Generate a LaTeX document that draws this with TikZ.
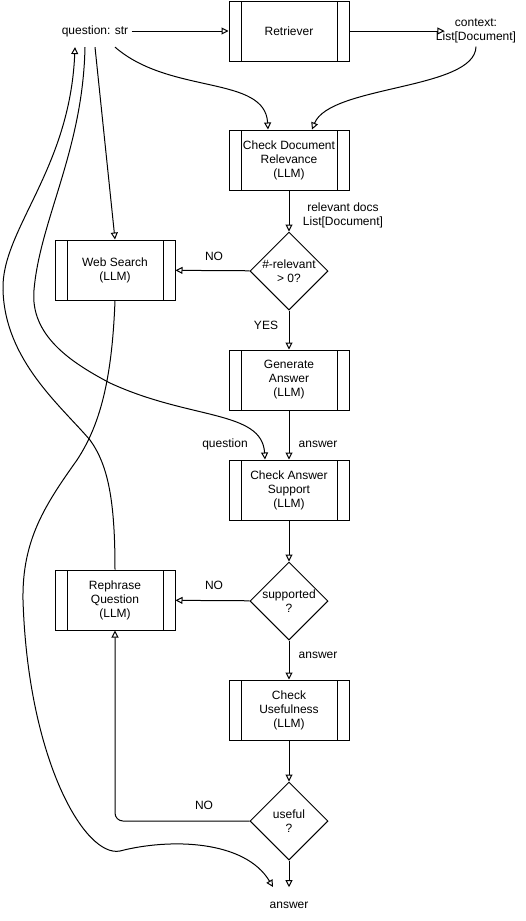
\documentclass[tikz,border=0pt]{standalone}
\usepackage{fontspec}
\setmainfont{Liberation Sans}
\usetikzlibrary{shapes.geometric, arrows.meta}

\begin{document}
\begin{tikzpicture}[x=1pt, y=-1pt, line width=1pt,
    font=\fontsize{12}{14}\selectfont,
    >={Triangle[open, length=7pt, width=7pt]},
    procbox/.style={rectangle, draw, minimum width=120pt, minimum height=60pt, inner sep=0pt, align=center,
        path picture={
            \draw ([xshift=12pt]path picture bounding box.north west) -- ([xshift=12pt]path picture bounding box.south west);
            \draw ([xshift=-12pt]path picture bounding box.north east) -- ([xshift=-12pt]path picture bounding box.south east);
        }},
    decision/.style={diamond, draw, minimum size=78pt, inner sep=0pt, align=center},
    lbl/.style={inner sep=3pt, align=center},
    flow/.style={->}
]
    \useasboundingbox (0,0) rectangle (526,921);

    % Define nodes at fixed positions
    \node[lbl, inner ysep=10pt] at (95,31) (q) {question: str};
    \node[procbox] at (289,31) (ret) {Retriever};
    \node[lbl] at (476,31) (ctx) {context:\\List[Document]};
    \node[procbox] at (289,160) (cdr) {Check Document\\Relevance\\(LLM)};
    \node[lbl] at (343,215) (rdocs) {relevant docs\\List[Document]};
    \node[decision] at (289,271) (rel) {\#-relevant\\> 0?};
    \node[procbox] at (115,270) (ws) {Web Search\\(LLM)};
    \node[lbl] at (214,256) (relno) {NO};
    \node[lbl] at (266,325) (relyes) {YES};
    \node[procbox] at (289,380) (ga) {Generate\\Answer\\(LLM)};
    \node[lbl] at (225,444) (qlbl) {question};
    \node[lbl] at (318,444) (alb1) {answer};
    \node[procbox] at (289,490) (cas) {Check Answer\\Support\\(LLM)};
    \node[decision] at (289,601) (sup) {supported\\?};
    \node[procbox] at (115,600) (rq) {Rephrase\\Question\\(LLM)};
    \node[lbl] at (214,585) (supno) {NO};
    \node[lbl] at (318,655) (alb2) {answer};
    \node[procbox] at (289,710) (cu) {Check\\Usefulness\\(LLM)};
    \node[decision] at (289,821) (use) {useful\\?};
    \node[lbl] at (204,805) (useno) {NO};
    \node[lbl, inner ysep=14pt] at (289,905) (ans) {answer};
    \coordinate (wsend) at (273,887);

    % Retrieval
    \draw[flow] (q) -- (ret);
    \draw[flow] (ret) -- ([xshift=12pt]ctx.west);
    \draw[flow] ([xshift=20pt]q.south) .. controls (170,95) and (265,75) .. ([xshift=-21pt]cdr.north);
    \draw[flow] (ctx.south) .. controls (475,90) and (330,85) .. ([xshift=23pt]cdr.north);

    % Main column
    \draw[flow] (cdr) -- (rel);
    \draw[flow] (rel) -- (ws);
    \draw[flow] (rel) -- (ga);
    \draw[flow] (ga) -- (cas);
    \draw[flow] (cas) -- (sup);
    \draw[flow] (sup) -- (rq);
    \draw[flow] (sup) -- (cu);
    \draw[flow] (cu) -- (use);
    \draw[flow] (use) -- (ans);
    \draw[flow, rounded corners=8pt] (use.west) -| (rq.south);

    % Question paths on the left
    \draw[flow] (q.south) -- (ws.north);
    \draw[flow] ([xshift=-10pt]q.south) .. controls (83,150) and (40,220) .. (34,290)
        .. controls (30,335) and (70,362) .. (110,383)
        .. controls (190,420) and (262,410) .. ([xshift=-24pt]cas.north);
    \draw[flow] (rq.north) .. controls (115,500) and (108,465) .. (90,440)
        .. controls (60,405) and (5,360) .. (3,290)
        .. controls (1,230) and (70,170) .. ([xshift=-20pt]q.south);
    \draw[flow] (ws.south) .. controls (112,380) and (100,425) .. (77,460)
        .. controls (45,505) and (22,540) .. (23,600)
        .. controls (28,760) and (85,858) .. (120,851)
        .. controls (170,838) and (245,840) .. (wsend);

\end{tikzpicture}
\end{document}
